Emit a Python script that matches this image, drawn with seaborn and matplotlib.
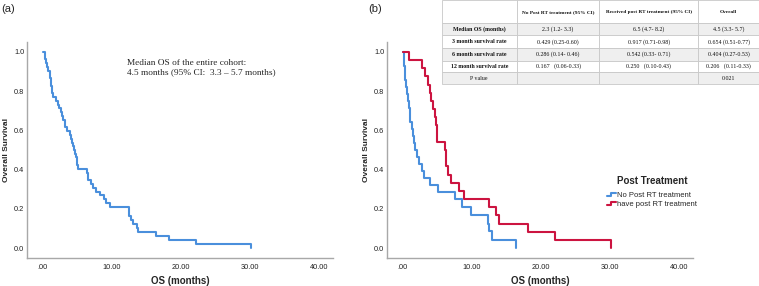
import numpy as np
import pandas as pd
import matplotlib
matplotlib.use('Agg')
import matplotlib.pyplot as plt
import seaborn as sns
from matplotlib.lines import Line2D
from matplotlib.legend_handler import HandlerLine2D

# ---- data (months, survival after each step) ----
overall_t = [0, 0.25, 0.35, 0.45, 0.55, 0.8, 0.97, 1.1, 1.15, 1.2, 1.3, 1.36, 1.5, 1.9,
             2.2, 2.4, 2.6, 2.8, 2.9, 3.16, 3.2, 3.5, 3.9, 4.1, 4.2, 4.4, 4.5, 4.7,
             4.75, 4.9, 5.0, 5.1, 6.45, 6.5, 6.6, 6.9, 7.2, 7.7, 8.25, 8.8, 9.2, 9.7,
             12.5, 12.7, 13.0, 13.6, 13.7, 16.4, 18.3, 22.1, 30.2]
overall_s = [1.0, .981, .962, .942, .923, .904, .885, .865, .846, .827, .808, .788, .769, .75,
             .731, .712, .692, .673, .654, .635, .615, .596, .577, .558, .538, .519, .5, .481,
             .462, .442, .423, .404, .385, .365, .346, .327, .308, .288, .269, .25, .231, .21,
             .165, .145, .124, .103, .083, .062, .041, .021, 0.0]

nopost_t = [0, 0.15, 0.2, 0.3, 0.35, 0.5, 0.6, 0.75, 0.85, 1.0, 1.1, 1.25, 1.4, 1.6, 1.75,
            2.05, 2.3, 2.7, 3.0, 3.9, 5.1, 7.5, 8.5, 9.9, 12.3, 12.5, 12.9, 16.4]
nopost_s = [1.0, .964, .929, .893, .857, .821, .786, .75, .714, .679, .643, .607, .571, .536, .5,
            .464, .429, .393, .357, .321, .286, .25, .208, .167, .125, .089, .044, 0.0]

post_t = [0, 0.85, 2.7, 3.2, 3.6, 3.9, 4.1, 4.4, 4.6, 4.8, 4.9, 5.0, 6.1, 6.2, 6.3, 6.5,
          7.0, 8.1, 8.9, 12.4, 13.5, 13.9, 18.1, 22.0, 30.1]
post_s = [1.0, .958, .917, .875, .833, .792, .75, .708, .667, .625, .583, .542, .5, .458, .417,
          .375, .333, .292, .25, .208, .167, .125, .083, .042, 0.0]

x_ticks = [0, 10, 20, 30, 40]
x_ticklabels = ['.00', '10.00', '20.00', '30.00', '40.00']
y_ticks = [0, 0.2, 0.4, 0.6, 0.8, 1.0]

group_names = ['No Post RT treatment', 'have post RT treatment']

table_header = ['', 'No Post RT treatment (95% CI)', 'Received post RT treatment (95% CI)', 'Overall']
table_rows = [
    ['Median OS (months)', '2.3 (1.2- 3.3)', '6.5 (4.7- 8.2)', '4.5 (3.3- 5.7)'],
    ['3 month survival rate', '0.429 (0.25-0.60)', '0.917 (0.71-0.98)', '0.654 (0.51-0.77)'],
    ['6 month survival rate', '0.286 (0.14- 0.46)', '0.542 (0.33- 0.71)', '0.404 (0.27-0.53)'],
    ['12 month survival rate', '0.167   (0.06-0.33)', '0.250   (0.10-0.43)', '0.206   (0.11-0.33)'],
    ['P value', '', '', '0.021'],
]

BLUE = '#4a8fdc'
RED = '#cc1440'
SPINE = '#a8a8a8'


class StepHandler(HandlerLine2D):
    '''legend handle drawn as a small step, like SPSS does'''
    def create_artists(self, legend, orig_handle, xdescent, ydescent, width, height, fontsize, trans):
        x = np.array([0, 0.45, 0.45, 1.0]) * width - xdescent
        y = np.array([0.25, 0.25, 0.8, 0.8]) * height - ydescent
        line = Line2D(x, y, color=orig_handle.get_color(), lw=orig_handle.get_linewidth())
        line.set_transform(trans)
        return [line]


def style_axis(ax):
    ax.set_xlim(-2.3, 42)
    ax.set_ylim(-0.05, 1.05)
    ax.set_xticks(x_ticks)
    ax.set_xticklabels(x_ticklabels)
    ax.set_yticks(y_ticks)
    ax.set_yticklabels([f'{v:.1f}' for v in y_ticks])
    ax.tick_params(axis='x', length=0, labelsize=5.3, pad=4, colors='#222222')
    ax.tick_params(axis='y', length=0, labelsize=5.3, pad=2, colors='#222222')
    for side in ['top', 'right']:
        ax.spines[side].set_visible(False)
    for side in ['left', 'bottom']:
        ax.spines[side].set_color(SPINE)
        ax.spines[side].set_linewidth(1.0)
    ax.set_xlabel('OS (months)', fontsize=7, fontweight='bold', labelpad=4)
    ax.set_ylabel('Overall Survival', fontsize=6, fontweight='bold', labelpad=3)


sns.set_style('white')
plt.rcParams['font.family'] = ['Liberation Sans', 'DejaVu Sans']

fig = plt.figure(figsize=(7.59, 2.86), dpi=100)
ax_a = fig.add_axes([27 / 759, 28 / 286, 306 / 759, 216 / 286])
ax_b = fig.add_axes([387 / 759, 28 / 286, 306 / 759, 216 / 286])

#---    PANEL A
df_all = pd.DataFrame({'t': overall_t, 's': overall_s})
sns.lineplot(data=df_all, x='t', y='s', drawstyle='steps-post', estimator=None,
             color=BLUE, lw=1.5, ax=ax_a)
style_axis(ax_a)
ax_a.text(12.2, 0.965, 'Median OS of the entire cohort:\n4.5 months (95% CI:  3.3 \u2013 5.7 months)',
          fontsize=6.7, family='Liberation Serif', va='top', linespacing=1.25)

#---    PANEL B
df_np = pd.DataFrame({'t': nopost_t, 's': nopost_s})
df_p = pd.DataFrame({'t': post_t, 's': post_s})
sns.lineplot(data=df_np, x='t', y='s', drawstyle='steps-post', estimator=None,
             color=BLUE, lw=1.5, ax=ax_b, label=group_names[0])
sns.lineplot(data=df_p, x='t', y='s', drawstyle='steps-post', estimator=None,
             color=RED, lw=1.5, ax=ax_b, label=group_names[1])
style_axis(ax_b)
leg = ax_b.legend(loc='upper left', bbox_to_anchor=(0.695, 0.41), frameon=False,
                  title='Post Treatment', fontsize=5.5, handlelength=1.3, handletextpad=0.1,
                  labelspacing=0.2, handler_map={Line2D: StepHandler()})
leg.get_title().set_fontsize(7)
leg.get_title().set_fontweight('bold')
leg._legend_box.sep = 4

fig.text(1 / 759, 1 - 12 / 286, '(a)', fontsize=8)
fig.text(368 / 759, 1 - 12 / 286, '(b)', fontsize=8)

#---    TABLE
ax_t = fig.add_axes([441.7 / 759, 1 - 84 / 286, 317.3 / 759, 84 / 286])
ax_t.axis('off')
col_w = [75, 82.6, 99, 60.7]
row_h = [23.3, 11.7, 12.7, 12.3, 11.7, 11.6]
cells = [table_header] + table_rows
tab = ax_t.table(cellText=cells, colWidths=[w / sum(col_w) for w in col_w],
                 cellLoc='center', bbox=[0, 0, 1, 1])
tab.auto_set_font_size(False)
for (r, c), cell in tab.get_celld().items():
    cell.set_height(row_h[r] / sum(row_h))
    cell.set_edgecolor('#c8c8c8')
    cell.set_linewidth(0.6)
    cell.set_facecolor('#efefef' if r in (1, 3, 5) else 'white')
    txt = cell.get_text()
    txt.set_family('Liberation Serif')
    txt.set_color('#111111')
    if r == 0:
        txt.set_fontsize(3.8)
        txt.set_fontweight('bold')
    elif c == 0:
        txt.set_fontsize(4.2)
        if r < 5:
            txt.set_fontweight('bold')
    else:
        txt.set_fontsize(4.3)

fig.savefig('out.png', dpi=100)
